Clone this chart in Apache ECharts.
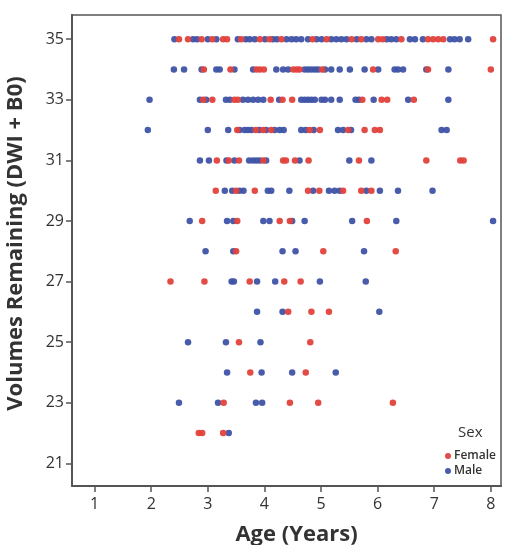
<!DOCTYPE html>
<html>
<head>
<meta charset="utf-8">
<script src="https://cdn.jsdelivr.net/npm/echarts@6/dist/echarts.min.js"></script>
<style>
  html, body { margin: 0; padding: 0; background: #fff; }
  #chart { width: 508px; height: 545px; }
</style>
</head>
<body>
<div id="chart"></div>
<script>
const volumes = [35, 34, 33, 32, 31, 30, 29, 28, 27, 26, 25, 24, 23, 22]
const xTicks = [1, 2, 3, 4, 5, 6, 7, 8]
const yTicks = [21, 23, 25, 27, 29, 31, 33, 35]

// ages per volume row, same order as volumes
const femaleAges = [
  [2.49, 2.65, 2.89, 3.08, 3.27, 3.34, 3.59, 3.92, 4.09, 4.30, 4.85, 5.10, 5.54, 5.71, 6.01, 6.09, 6.42, 6.89, 6.98, 7.07, 7.16, 8.04],
  [2.93, 3.40, 3.86, 3.92, 3.99, 4.51, 4.57, 4.62, 5.02, 5.92, 6.89, 8.00],
  [2.92, 3.08, 3.47, 3.53, 4.11, 4.32, 4.49, 5.73, 6.07, 6.17, 6.64],
  [3.52, 3.85, 3.98, 4.12, 4.80, 4.98, 5.48, 5.77, 5.95, 6.04],
  [3.16, 3.37, 3.55, 3.98, 4.33, 4.38, 4.54, 4.78, 5.67, 6.86, 7.46, 7.52],
  [3.14, 3.50, 3.83, 4.77, 4.97, 5.39, 5.71, 5.89],
  [2.90, 3.52, 4.27, 4.45, 5.81],
  [3.50, 5.04, 6.32],
  [2.34, 2.94, 3.74, 4.35, 4.64],
  [4.42, 4.83, 5.14],
  [3.55, 4.81],
  [3.75, 4.73],
  [3.28, 4.45, 4.95, 6.27],
  [2.84, 2.90, 3.27],
]
const maleAges = [
  [2.41, 2.74, 2.81, 3.00, 3.15, 3.53, 3.67, 3.74, 3.83, 4.01, 4.15, 4.22, 4.39, 4.48, 4.56, 4.65, 4.77, 4.92, 5.01, 5.18, 5.27, 5.36, 5.45, 5.63, 5.80, 5.89, 6.16, 6.24, 6.33, 6.57, 6.66, 6.80, 7.28, 7.36, 7.45, 7.60],
  [2.40, 2.58, 2.89, 3.15, 3.21, 3.47, 3.80, 4.21, 4.33, 4.42, 4.71, 4.77, 4.83, 4.89, 4.95, 5.07, 5.18, 5.33, 5.51, 5.77, 6.01, 6.30, 6.36, 6.45, 6.86, 7.25],
  [1.97, 2.86, 2.97, 3.32, 3.39, 3.62, 3.71, 3.80, 3.89, 3.98, 4.26, 4.65, 4.71, 4.77, 4.83, 4.89, 5.01, 5.07, 5.18, 5.33, 5.61, 5.67, 5.93, 6.54, 7.25],
  [1.94, 3.00, 3.36, 3.56, 3.65, 3.71, 3.77, 3.91, 4.03, 4.18, 4.27, 4.34, 4.65, 4.73, 4.87, 5.30, 5.39, 5.53, 7.13, 7.22],
  [2.86, 3.02, 3.33, 3.47, 3.73, 3.80, 3.86, 3.92, 4.03, 4.62, 5.50, 5.89],
  [3.30, 3.43, 3.56, 3.63, 4.06, 4.12, 4.44, 4.86, 5.14, 5.24, 5.33, 5.80, 6.04, 6.36, 6.97],
  [2.68, 3.34, 3.45, 3.98, 4.09, 4.49, 4.71, 5.55, 6.33, 8.04],
  [2.96, 3.45, 4.32, 4.55, 5.76],
  [3.42, 3.46, 3.87, 4.19, 4.98, 5.79],
  [3.87, 4.32, 6.03],
  [2.65, 3.32, 3.93],
  [3.34, 3.95, 4.49, 5.26],
  [2.49, 3.18, 3.85, 3.96],
  [3.37],
]

const toPoints = (rows) =>
  rows.flatMap((ages, i) => ages.map((age) => [age, volumes[i]]))

const chart = echarts.init(document.getElementById('chart'))

const font = '"Open Sans", "DejaVu Sans", sans-serif'

const option = {
  backgroundColor: '#fff',
  animation: false,
  textStyle: { fontFamily: font },
  title: {
    text: 'Sex',
    left: 453,
    top: 420,
    textStyle: { fontFamily: font, fontSize: 15, fontWeight: 'normal', color: '#333' },
  },
  legend: {
    data: ['Female', 'Male'],
    orient: 'vertical',
    left: 440,
    top: 445,
    icon: 'circle',
    itemWidth: 6,
    itemHeight: 6,
    itemGap: 3,
    textStyle: { fontFamily: font, fontSize: 12, fontWeight: 600, color: '#333', padding: [0, 0, 0, -2] },
  },
  grid: {
    left: 72,
    top: 15,
    right: 7,
    bottom: 59,
    outerBoundsMode: 'none',
    containLabel: false,
    show: true,
    borderColor: '#555',
    borderWidth: 1.5,
  },
  xAxis: {
    type: 'value',
    min: 0.6,
    max: 8.18,
    name: 'Age (Years)',
    nameLocation: 'middle',
    nameGap: 38,
    nameTextStyle: { fontFamily: font, fontSize: 22, fontWeight: 'bold', color: '#333', padding: [0, 0, 0, 20] },
    axisLine: { lineStyle: { color: '#555', width: 2 } },
    axisTick: { show: true, length: 6, customValues: xTicks, lineStyle: { color: '#555', width: 1.5 } },
    axisLabel: { customValues: xTicks, fontSize: 16, color: '#333', margin: 10 },
    splitLine: { show: false },
  },
  yAxis: {
    type: 'value',
    min: 20.25,
    max: 35.8,
    name: 'Volumes Remaining (DWI + B0)',
    nameLocation: 'middle',
    nameGap: 45,
    nameTextStyle: { fontFamily: font, fontSize: 22, fontWeight: 'bold', color: '#333', padding: [0, 0, 0, 14] },
    axisLine: { show: true, lineStyle: { color: '#555', width: 2 } },
    axisTick: { show: true, length: 6, customValues: yTicks, lineStyle: { color: '#555', width: 1.5 } },
    axisLabel: { customValues: yTicks, fontSize: 16, color: '#333', margin: 8 },
    splitLine: { show: false },
  },
  series: [
    {
      name: 'Male',
      type: 'scatter',
      symbolSize: 6.5,
      itemStyle: { color: '#3F53A6', opacity: 0.95 },
      data: toPoints(maleAges),
    },
    {
      name: 'Female',
      type: 'scatter',
      symbolSize: 6.5,
      itemStyle: { color: '#E2413B', opacity: 0.95 },
      data: toPoints(femaleAges),
    },
  ],
}

chart.setOption(option)
</script>
</body>
</html>
